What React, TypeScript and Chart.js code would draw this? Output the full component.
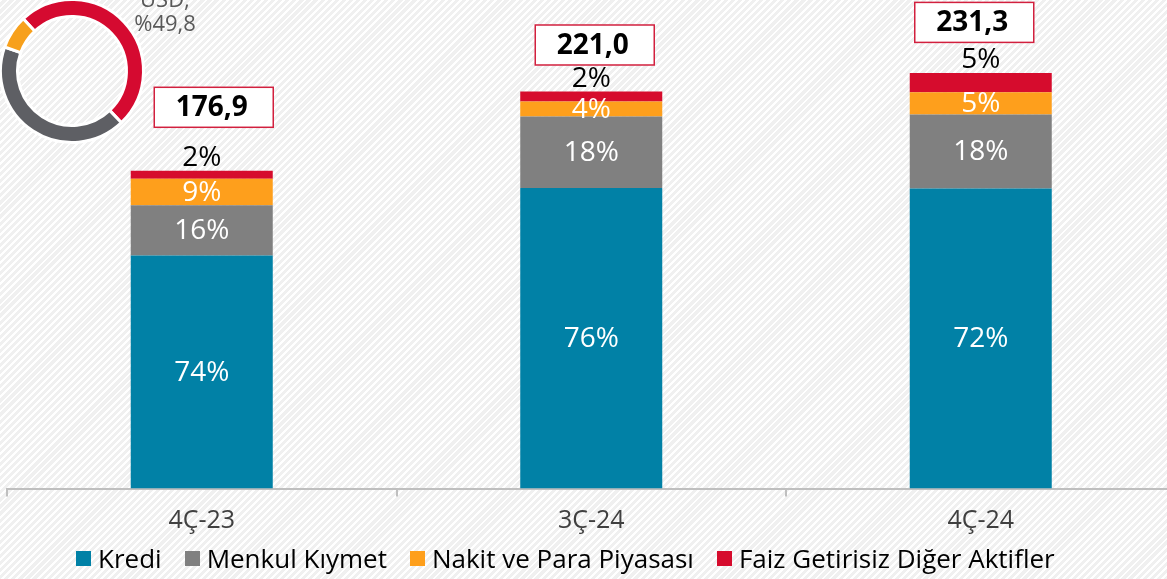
import React, { useEffect, useRef } from "react";
import { Chart, registerables } from "chart.js";

Chart.register(...registerables);

// ---------- data ----------
const categories = ["4Ç-23", "3Ç-24", "4Ç-24"];
const seriesNames = ["Kredi", "Menkul Kıymet", "Nakit ve Para Piyasası", "Faiz Getirisiz Diğer Aktifler"];
const krediValues = [129.8, 167.3, 167.1];
const menkulValues = [27.9, 39.9, 41.1];
const nakitValues = [14.8, 8.3, 12.4];
const digerValues = [4.4, 5.5, 10.7];
const krediLabels = ["74%", "76%", "72%"];
const menkulLabels = ["16%", "18%", "18%"];
const nakitLabels = ["9%", "4%", "5%"];
const digerLabels = ["2%", "2%", "5%"];
const totals = [176.9, 221.0, 231.3];

const donutNames = ["USD", "TL", "Diğer"];
const donutValues = [49.8, 42.6, 7.6];
const donutText = ["USD;", "%49,8"];

// ---------- styles ----------
const COLORS = ["#0181A6", "#808080", "#FE9F1C", "#D60C2D"];
const DONUT_COLORS = ["#D50A30", "#5E5F64", "#F7A01C"];
const FONT = '"Open Sans", "Noto Sans", sans-serif';
const BOX_DX = [12, 3.5, -6.5];
const BOX_DY = [63.5, 46.6, 50.7];

const labelPlugin = {
  id: "segLabels",
  afterDatasetsDraw(chart: any) {
    const ctx = chart.ctx;
    const labelSets = [krediLabels, menkulLabels, nakitLabels, digerLabels];
    ctx.save();
    ctx.textAlign = "center";
    ctx.textBaseline = "middle";
    ctx.font = `28px ${FONT}`;
    labelSets.forEach((labels, i) => {
      const meta = chart.getDatasetMeta(i);
      meta.data.forEach((bar: any, j: number) => {
        const { x, y, base } = bar.getProps(["x", "y", "base"], true);
        if (i === 3) {
          ctx.fillStyle = "#000";
          ctx.fillText(labels[j], x, y - 13);
        } else {
          ctx.fillStyle = "#fff";
          ctx.fillText(labels[j], x, (y + base) / 2 + 1);
        }
      });
    });
    // total boxes
    const topMeta = chart.getDatasetMeta(3);
    topMeta.data.forEach((bar: any, j: number) => {
      const { x, y } = bar.getProps(["x", "y"], true);
      const cx = x + BOX_DX[j];
      const cy = y - BOX_DY[j];
      const w = 119, h = 40;
      ctx.fillStyle = "#fff";
      ctx.fillRect(cx - w / 2, cy - h / 2, w, h);
      ctx.strokeStyle = "#D2203E";
      ctx.lineWidth = 1.5;
      ctx.strokeRect(cx - w / 2, cy - h / 2, w, h);
      ctx.fillStyle = "#000";
      ctx.font = `bold 28px ${FONT}`;
      ctx.fillText(totals[j].toFixed(1).replace(".", ","), cx - 2, cy + 1);
    });
    // donut annotation text
    ctx.fillStyle = "#595959";
    ctx.font = `22px ${FONT}`;
    ctx.fillText(donutText[0], 165, 1);
    ctx.fillText(donutText[1], 165, 25);
    ctx.restore();
  },
};

export default function App() {
  const barRef = useRef<HTMLCanvasElement>(null);
  const donutRef = useRef<HTMLCanvasElement>(null);

  useEffect(() => {
    const values = [krediValues, menkulValues, nakitValues, digerValues];
    const bar = new Chart(barRef.current!, {
      type: "bar",
      data: {
        labels: categories,
        datasets: seriesNames.map((name, i) => ({
          label: name,
          data: values[i],
          backgroundColor: COLORS[i],
          borderWidth: 0,
          barPercentage: 0.3646,
          categoryPercentage: 1,
        })),
      },
      options: {
        responsive: false,
        animation: false,
        events: [],
        layout: { padding: { left: 7, right: 14.5, top: 0, bottom: 34.5 } },
        plugins: { legend: { display: false }, tooltip: { enabled: false } },
        scales: {
          x: {
            stacked: true,
            grid: {
              display: true,
              drawOnChartArea: false,
              drawTicks: true,
              tickLength: 8,
              color: "#BFBFBF",
              lineWidth: 2,
              offset: true,
            },
            border: { display: true, color: "#BFBFBF", width: 2 },
            ticks: {
              color: "#404040",
              font: { family: FONT, size: 25 },
              padding: 9,
              maxRotation: 0,
              autoSkip: false,
            },
          },
          y: { stacked: true, display: false, min: 0, max: 272 },
        },
      },
      plugins: [labelPlugin],
    });

    const donut = new Chart(donutRef.current!, {
      type: "doughnut",
      data: {
        labels: donutNames,
        datasets: [
          {
            data: donutValues,
            backgroundColor: DONUT_COLORS,
            borderColor: "#fff",
            borderWidth: 3,
          },
        ],
      },
      options: {
        responsive: false,
        animation: false,
        events: [],
        radius: 71.5,
        cutout: 56,
        rotation: 317,
        plugins: { legend: { display: false }, tooltip: { enabled: false } },
      } as any,
    });

    return () => {
      bar.destroy();
      donut.destroy();
    };
  }, []);

  return (
    <div
      style={{
        position: "absolute",
        left: 0,
        top: 0,
        width: 1167,
        height: 579,
        overflow: "hidden",
        background: "repeating-linear-gradient(135deg, #ffffff 0px, #ffffff 2px, #f0f0f0 2px, #f0f0f0 5px)",
      }}
    >
      <canvas ref={barRef} width={1190} height={579} style={{ position: "absolute", left: 0, top: 0, width: 1190, height: 579 }} />
      <canvas ref={donutRef} width={150} height={150} style={{ position: "absolute", left: -3, top: -4, width: 150, height: 150 }} />
      <div
        style={{
          position: "absolute",
          left: 76,
          top: 542,
          display: "flex",
          alignItems: "center",
          fontFamily: FONT,
          fontSize: 26,
          lineHeight: "32px",
          color: "#000",
          whiteSpace: "nowrap",
        }}
      >
        {seriesNames.map((name, i) => (
          <div key={name} style={{ display: "flex", alignItems: "center", marginRight: 23 }}>
            <span style={{ display: "inline-block", width: 15, height: 15, background: COLORS[i], marginRight: 7 }} />
            <span>{name}</span>
          </div>
        ))}
      </div>
    </div>
  );
}
